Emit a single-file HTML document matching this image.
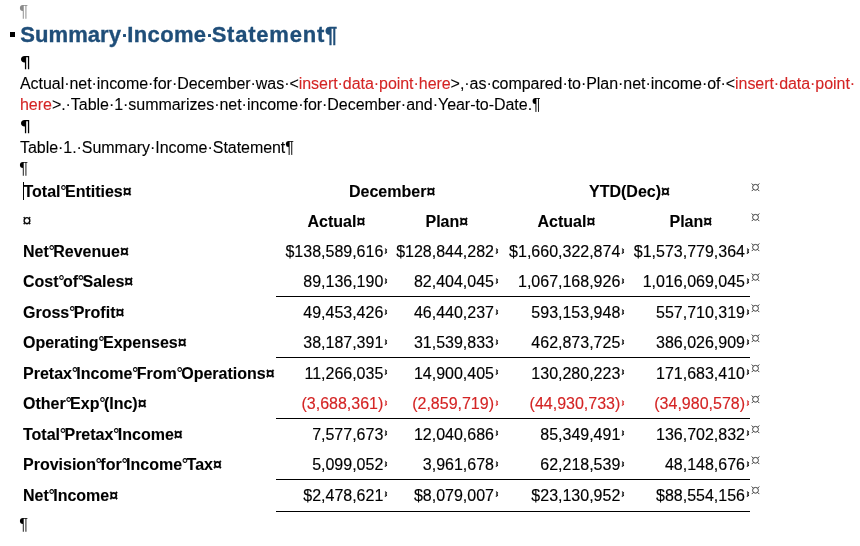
<!DOCTYPE html><html><head><meta charset="utf-8"><style>
html,body{margin:0;padding:0;background:#fff;}
body{width:860px;height:546px;position:relative;overflow:hidden;will-change:transform;font-family:"Liberation Sans",sans-serif;color:#000;}
.a{position:absolute;white-space:nowrap;line-height:1;}
.t{font-size:16px;font-weight:bold;-webkit-text-stroke:0.1px currentColor;}
.n{font-size:16px;-webkit-text-stroke:0.15px currentColor;}
.red{color:#d42424;}
.ns{display:inline-block;width:4.45px;overflow:visible;text-indent:-0.3px;font-weight:normal;font-size:16px;-webkit-text-stroke:0.15px #000;}
.mk{position:absolute;}
.body{font-size:16px;-webkit-text-stroke:0.1px currentColor;}
.h{font-size:22px;font-weight:bold;color:#1f4e79;-webkit-text-stroke:0.35px #1f4e79;}
</style></head><body>

<div class="a" style="left:19.36px;top:2.82px;font-size:16.5px;color:#8a8a8a">¶</div>
<div class="a" style="left:10px;top:32px;width:5px;height:5px;background:#000;"></div>
<div class="a h" style="left:20.37px;top:24.48px;letter-spacing:0.05px">Summary</div>
<div class="a h" style="left:127.33px;top:24.48px;letter-spacing:0.34px">Income</div>
<div class="a h" style="left:211.67px;top:24.48px;letter-spacing:0.78px">Statement¶</div>
<div class="a" style="left:123.1px;top:33.8px;width:3.2px;height:3.2px;background:#1f4e79;border-radius:0.5px"></div>
<div class="a" style="left:208.0px;top:33.8px;width:3.2px;height:3.2px;background:#1f4e79;border-radius:0.5px"></div>
<svg class="a" style="left:20.9px;top:55.8px" width="9" height="14" viewBox="0 0 9 14"><path d="M8.2 0H3.6C1.3 0 0 1.5 0 3.3C0 5.1 1.3 6.6 3.6 6.6H3.9V13.2H5.2V1.2H6.9V13.2H8.2Z" fill="#000"/></svg>
<div class="a body" style="left:20px;top:75.8px;letter-spacing:-0.05px">Actual·net·income·for·December·was·&lt;<span class="red">insert·data·point·here</span>&gt;,·as·compared·to·Plan·net·income·of·&lt;<span class="red">insert·data·point·</span></div>
<div class="a body" style="left:20px;top:97.0px;letter-spacing:-0.04px"><span class="red">here</span>&gt;.·Table·1·summarizes·net·income·for·December·and·Year-to-Date.¶</div>
<svg class="a" style="left:20.9px;top:120.0px" width="9" height="14" viewBox="0 0 9 14"><path d="M8.2 0H3.6C1.3 0 0 1.5 0 3.3C0 5.1 1.3 6.6 3.6 6.6H3.9V13.2H5.2V1.2H6.9V13.2H8.2Z" fill="#000"/></svg>
<div class="a body" style="left:20px;top:140.3px;letter-spacing:-0.045px">Table·1.·Summary·Income·Statement¶</div>
<div class="a" style="left:19.26px;top:160.32px;font-size:16.5px;color:#000">¶</div>
<div class="a" style="left:23px;top:182px;width:1px;height:18px;background:#000;"></div>
<div class="a t" style="left:23.5px;top:184.0px;">Total<span class="ns">°</span>Entities¤</div>
<div class="a t" style="left:349px;top:184.0px;">December¤</div>
<div class="a t" style="left:589px;top:184.0px;">YTD(Dec)¤</div>
<div class="a" style="left:750.5px;top:182.7px;"><svg style="display:block" width="9" height="9" viewBox="0 0 9 9"><circle cx="4.5" cy="4.3" r="2.9" fill="none" stroke="#333" stroke-width="0.95"/><path d="M0.7 0.5L2.2 2M8.3 0.5L6.8 2M0.7 8.1L2.2 6.6M8.3 8.1L6.8 6.6" stroke="#333" stroke-width="0.95"/></svg></div>
<div class="a" style="left:22.4px;top:212.76px;font-size:16px;-webkit-text-stroke:0.2px #000">¤</div>
<div class="a t" style="left:307.5px;top:213.9px;">Actual¤</div>
<div class="a t" style="left:425.5px;top:213.9px;">Plan¤</div>
<div class="a t" style="left:537.5px;top:213.9px;">Actual¤</div>
<div class="a t" style="left:669.5px;top:213.9px;">Plan¤</div>
<div class="a" style="left:750.5px;top:212.6px;"><svg style="display:block" width="9" height="9" viewBox="0 0 9 9"><circle cx="4.5" cy="4.3" r="2.9" fill="none" stroke="#333" stroke-width="0.95"/><path d="M0.7 0.5L2.2 2M8.3 0.5L6.8 2M0.7 8.1L2.2 6.6M8.3 8.1L6.8 6.6" stroke="#333" stroke-width="0.95"/></svg></div>
<div class="a t" style="left:23px;top:243.9px;">Net<span class="ns">°</span>Revenue¤</div>
<div class="a n" style="right:476.7px;top:243.9px;">$138,589,616</div>
<div class="a" style="left:384.3px;top:247.6px;"><svg class="mk" width="4" height="6" viewBox="0 0 4 6"><path d="M1 0.6L2.6 1.9L1.5 3L2.6 4.2L0.8 5.5" fill="none" stroke="#000" stroke-width="1.05" stroke-linejoin="round"/></svg></div>
<div class="a n" style="right:366.0px;top:243.9px;">$128,844,282</div>
<div class="a" style="left:495.0px;top:247.6px;"><svg class="mk" width="4" height="6" viewBox="0 0 4 6"><path d="M1 0.6L2.6 1.9L1.5 3L2.6 4.2L0.8 5.5" fill="none" stroke="#000" stroke-width="1.05" stroke-linejoin="round"/></svg></div>
<div class="a n" style="right:239.7px;top:243.9px;">$1,660,322,874</div>
<div class="a" style="left:621.3px;top:247.6px;"><svg class="mk" width="4" height="6" viewBox="0 0 4 6"><path d="M1 0.6L2.6 1.9L1.5 3L2.6 4.2L0.8 5.5" fill="none" stroke="#000" stroke-width="1.05" stroke-linejoin="round"/></svg></div>
<div class="a n" style="right:115.0px;top:243.9px;">$1,573,779,364</div>
<div class="a" style="left:746.0px;top:247.6px;"><svg class="mk" width="4" height="6" viewBox="0 0 4 6"><path d="M1 0.6L2.6 1.9L1.5 3L2.6 4.2L0.8 5.5" fill="none" stroke="#000" stroke-width="1.05" stroke-linejoin="round"/></svg></div>
<div class="a" style="left:750.5px;top:242.6px;"><svg style="display:block" width="9" height="9" viewBox="0 0 9 9"><circle cx="4.5" cy="4.3" r="2.9" fill="none" stroke="#333" stroke-width="0.95"/><path d="M0.7 0.5L2.2 2M8.3 0.5L6.8 2M0.7 8.1L2.2 6.6M8.3 8.1L6.8 6.6" stroke="#333" stroke-width="0.95"/></svg></div>
<div class="a t" style="left:23px;top:274.3px;">Cost<span class="ns">°</span>of<span class="ns">°</span>Sales¤</div>
<div class="a n" style="right:476.7px;top:274.3px;">89,136,190</div>
<div class="a" style="left:384.3px;top:278.1px;"><svg class="mk" width="4" height="6" viewBox="0 0 4 6"><path d="M1 0.6L2.6 1.9L1.5 3L2.6 4.2L0.8 5.5" fill="none" stroke="#000" stroke-width="1.05" stroke-linejoin="round"/></svg></div>
<div class="a n" style="right:366.0px;top:274.3px;">82,404,045</div>
<div class="a" style="left:495.0px;top:278.1px;"><svg class="mk" width="4" height="6" viewBox="0 0 4 6"><path d="M1 0.6L2.6 1.9L1.5 3L2.6 4.2L0.8 5.5" fill="none" stroke="#000" stroke-width="1.05" stroke-linejoin="round"/></svg></div>
<div class="a n" style="right:239.7px;top:274.3px;">1,067,168,926</div>
<div class="a" style="left:621.3px;top:278.1px;"><svg class="mk" width="4" height="6" viewBox="0 0 4 6"><path d="M1 0.6L2.6 1.9L1.5 3L2.6 4.2L0.8 5.5" fill="none" stroke="#000" stroke-width="1.05" stroke-linejoin="round"/></svg></div>
<div class="a n" style="right:115.0px;top:274.3px;">1,016,069,045</div>
<div class="a" style="left:746.0px;top:278.1px;"><svg class="mk" width="4" height="6" viewBox="0 0 4 6"><path d="M1 0.6L2.6 1.9L1.5 3L2.6 4.2L0.8 5.5" fill="none" stroke="#000" stroke-width="1.05" stroke-linejoin="round"/></svg></div>
<div class="a" style="left:750.5px;top:273.1px;"><svg style="display:block" width="9" height="9" viewBox="0 0 9 9"><circle cx="4.5" cy="4.3" r="2.9" fill="none" stroke="#333" stroke-width="0.95"/><path d="M0.7 0.5L2.2 2M8.3 0.5L6.8 2M0.7 8.1L2.2 6.6M8.3 8.1L6.8 6.6" stroke="#333" stroke-width="0.95"/></svg></div>
<div class="a t" style="left:23px;top:304.8px;">Gross<span class="ns">°</span>Profit¤</div>
<div class="a n" style="right:476.7px;top:304.8px;">49,453,426</div>
<div class="a" style="left:384.3px;top:308.5px;"><svg class="mk" width="4" height="6" viewBox="0 0 4 6"><path d="M1 0.6L2.6 1.9L1.5 3L2.6 4.2L0.8 5.5" fill="none" stroke="#000" stroke-width="1.05" stroke-linejoin="round"/></svg></div>
<div class="a n" style="right:366.0px;top:304.8px;">46,440,237</div>
<div class="a" style="left:495.0px;top:308.5px;"><svg class="mk" width="4" height="6" viewBox="0 0 4 6"><path d="M1 0.6L2.6 1.9L1.5 3L2.6 4.2L0.8 5.5" fill="none" stroke="#000" stroke-width="1.05" stroke-linejoin="round"/></svg></div>
<div class="a n" style="right:239.7px;top:304.8px;">593,153,948</div>
<div class="a" style="left:621.3px;top:308.5px;"><svg class="mk" width="4" height="6" viewBox="0 0 4 6"><path d="M1 0.6L2.6 1.9L1.5 3L2.6 4.2L0.8 5.5" fill="none" stroke="#000" stroke-width="1.05" stroke-linejoin="round"/></svg></div>
<div class="a n" style="right:115.0px;top:304.8px;">557,710,319</div>
<div class="a" style="left:746.0px;top:308.5px;"><svg class="mk" width="4" height="6" viewBox="0 0 4 6"><path d="M1 0.6L2.6 1.9L1.5 3L2.6 4.2L0.8 5.5" fill="none" stroke="#000" stroke-width="1.05" stroke-linejoin="round"/></svg></div>
<div class="a" style="left:750.5px;top:303.5px;"><svg style="display:block" width="9" height="9" viewBox="0 0 9 9"><circle cx="4.5" cy="4.3" r="2.9" fill="none" stroke="#333" stroke-width="0.95"/><path d="M0.7 0.5L2.2 2M8.3 0.5L6.8 2M0.7 8.1L2.2 6.6M8.3 8.1L6.8 6.6" stroke="#333" stroke-width="0.95"/></svg></div>
<div class="a t" style="left:23px;top:335.2px;">Operating<span class="ns">°</span>Expenses¤</div>
<div class="a n" style="right:476.7px;top:335.2px;">38,187,391</div>
<div class="a" style="left:384.3px;top:338.9px;"><svg class="mk" width="4" height="6" viewBox="0 0 4 6"><path d="M1 0.6L2.6 1.9L1.5 3L2.6 4.2L0.8 5.5" fill="none" stroke="#000" stroke-width="1.05" stroke-linejoin="round"/></svg></div>
<div class="a n" style="right:366.0px;top:335.2px;">31,539,833</div>
<div class="a" style="left:495.0px;top:338.9px;"><svg class="mk" width="4" height="6" viewBox="0 0 4 6"><path d="M1 0.6L2.6 1.9L1.5 3L2.6 4.2L0.8 5.5" fill="none" stroke="#000" stroke-width="1.05" stroke-linejoin="round"/></svg></div>
<div class="a n" style="right:239.7px;top:335.2px;">462,873,725</div>
<div class="a" style="left:621.3px;top:338.9px;"><svg class="mk" width="4" height="6" viewBox="0 0 4 6"><path d="M1 0.6L2.6 1.9L1.5 3L2.6 4.2L0.8 5.5" fill="none" stroke="#000" stroke-width="1.05" stroke-linejoin="round"/></svg></div>
<div class="a n" style="right:115.0px;top:335.2px;">386,026,909</div>
<div class="a" style="left:746.0px;top:338.9px;"><svg class="mk" width="4" height="6" viewBox="0 0 4 6"><path d="M1 0.6L2.6 1.9L1.5 3L2.6 4.2L0.8 5.5" fill="none" stroke="#000" stroke-width="1.05" stroke-linejoin="round"/></svg></div>
<div class="a" style="left:750.5px;top:333.9px;"><svg style="display:block" width="9" height="9" viewBox="0 0 9 9"><circle cx="4.5" cy="4.3" r="2.9" fill="none" stroke="#333" stroke-width="0.95"/><path d="M0.7 0.5L2.2 2M8.3 0.5L6.8 2M0.7 8.1L2.2 6.6M8.3 8.1L6.8 6.6" stroke="#333" stroke-width="0.95"/></svg></div>
<div class="a t" style="left:23px;top:365.7px;">Pretax<span class="ns">°</span>Income<span class="ns">°</span>From<span class="ns">°</span>Operations¤</div>
<div class="a n" style="right:476.7px;top:365.7px;">11,266,035</div>
<div class="a" style="left:384.3px;top:369.4px;"><svg class="mk" width="4" height="6" viewBox="0 0 4 6"><path d="M1 0.6L2.6 1.9L1.5 3L2.6 4.2L0.8 5.5" fill="none" stroke="#000" stroke-width="1.05" stroke-linejoin="round"/></svg></div>
<div class="a n" style="right:366.0px;top:365.7px;">14,900,405</div>
<div class="a" style="left:495.0px;top:369.4px;"><svg class="mk" width="4" height="6" viewBox="0 0 4 6"><path d="M1 0.6L2.6 1.9L1.5 3L2.6 4.2L0.8 5.5" fill="none" stroke="#000" stroke-width="1.05" stroke-linejoin="round"/></svg></div>
<div class="a n" style="right:239.7px;top:365.7px;">130,280,223</div>
<div class="a" style="left:621.3px;top:369.4px;"><svg class="mk" width="4" height="6" viewBox="0 0 4 6"><path d="M1 0.6L2.6 1.9L1.5 3L2.6 4.2L0.8 5.5" fill="none" stroke="#000" stroke-width="1.05" stroke-linejoin="round"/></svg></div>
<div class="a n" style="right:115.0px;top:365.7px;">171,683,410</div>
<div class="a" style="left:746.0px;top:369.4px;"><svg class="mk" width="4" height="6" viewBox="0 0 4 6"><path d="M1 0.6L2.6 1.9L1.5 3L2.6 4.2L0.8 5.5" fill="none" stroke="#000" stroke-width="1.05" stroke-linejoin="round"/></svg></div>
<div class="a" style="left:750.5px;top:364.4px;"><svg style="display:block" width="9" height="9" viewBox="0 0 9 9"><circle cx="4.5" cy="4.3" r="2.9" fill="none" stroke="#333" stroke-width="0.95"/><path d="M0.7 0.5L2.2 2M8.3 0.5L6.8 2M0.7 8.1L2.2 6.6M8.3 8.1L6.8 6.6" stroke="#333" stroke-width="0.95"/></svg></div>
<div class="a t" style="left:23px;top:396.1px;">Other<span class="ns">°</span>Exp<span class="ns">°</span>(Inc)¤</div>
<div class="a n red" style="right:476.7px;top:396.1px;">(3,688,361)</div>
<div class="a" style="left:384.3px;top:399.8px;"><svg class="mk" width="4" height="6" viewBox="0 0 4 6"><path d="M1 0.6L2.6 1.9L1.5 3L2.6 4.2L0.8 5.5" fill="none" stroke="#d42424" stroke-width="1.05" stroke-linejoin="round"/></svg></div>
<div class="a n red" style="right:366.0px;top:396.1px;">(2,859,719)</div>
<div class="a" style="left:495.0px;top:399.8px;"><svg class="mk" width="4" height="6" viewBox="0 0 4 6"><path d="M1 0.6L2.6 1.9L1.5 3L2.6 4.2L0.8 5.5" fill="none" stroke="#d42424" stroke-width="1.05" stroke-linejoin="round"/></svg></div>
<div class="a n red" style="right:239.7px;top:396.1px;">(44,930,733)</div>
<div class="a" style="left:621.3px;top:399.8px;"><svg class="mk" width="4" height="6" viewBox="0 0 4 6"><path d="M1 0.6L2.6 1.9L1.5 3L2.6 4.2L0.8 5.5" fill="none" stroke="#d42424" stroke-width="1.05" stroke-linejoin="round"/></svg></div>
<div class="a n red" style="right:115.0px;top:396.1px;">(34,980,578)</div>
<div class="a" style="left:746.0px;top:399.8px;"><svg class="mk" width="4" height="6" viewBox="0 0 4 6"><path d="M1 0.6L2.6 1.9L1.5 3L2.6 4.2L0.8 5.5" fill="none" stroke="#d42424" stroke-width="1.05" stroke-linejoin="round"/></svg></div>
<div class="a" style="left:750.5px;top:394.8px;"><svg style="display:block" width="9" height="9" viewBox="0 0 9 9"><circle cx="4.5" cy="4.3" r="2.9" fill="none" stroke="#333" stroke-width="0.95"/><path d="M0.7 0.5L2.2 2M8.3 0.5L6.8 2M0.7 8.1L2.2 6.6M8.3 8.1L6.8 6.6" stroke="#333" stroke-width="0.95"/></svg></div>
<div class="a t" style="left:23px;top:426.6px;">Total<span class="ns">°</span>Pretax<span class="ns">°</span>Income¤</div>
<div class="a n" style="right:476.7px;top:426.6px;">7,577,673</div>
<div class="a" style="left:384.3px;top:430.3px;"><svg class="mk" width="4" height="6" viewBox="0 0 4 6"><path d="M1 0.6L2.6 1.9L1.5 3L2.6 4.2L0.8 5.5" fill="none" stroke="#000" stroke-width="1.05" stroke-linejoin="round"/></svg></div>
<div class="a n" style="right:366.0px;top:426.6px;">12,040,686</div>
<div class="a" style="left:495.0px;top:430.3px;"><svg class="mk" width="4" height="6" viewBox="0 0 4 6"><path d="M1 0.6L2.6 1.9L1.5 3L2.6 4.2L0.8 5.5" fill="none" stroke="#000" stroke-width="1.05" stroke-linejoin="round"/></svg></div>
<div class="a n" style="right:239.7px;top:426.6px;">85,349,491</div>
<div class="a" style="left:621.3px;top:430.3px;"><svg class="mk" width="4" height="6" viewBox="0 0 4 6"><path d="M1 0.6L2.6 1.9L1.5 3L2.6 4.2L0.8 5.5" fill="none" stroke="#000" stroke-width="1.05" stroke-linejoin="round"/></svg></div>
<div class="a n" style="right:115.0px;top:426.6px;">136,702,832</div>
<div class="a" style="left:746.0px;top:430.3px;"><svg class="mk" width="4" height="6" viewBox="0 0 4 6"><path d="M1 0.6L2.6 1.9L1.5 3L2.6 4.2L0.8 5.5" fill="none" stroke="#000" stroke-width="1.05" stroke-linejoin="round"/></svg></div>
<div class="a" style="left:750.5px;top:425.3px;"><svg style="display:block" width="9" height="9" viewBox="0 0 9 9"><circle cx="4.5" cy="4.3" r="2.9" fill="none" stroke="#333" stroke-width="0.95"/><path d="M0.7 0.5L2.2 2M8.3 0.5L6.8 2M0.7 8.1L2.2 6.6M8.3 8.1L6.8 6.6" stroke="#333" stroke-width="0.95"/></svg></div>
<div class="a t" style="left:23px;top:457.0px;">Provision<span class="ns">°</span>for<span class="ns">°</span>Income<span class="ns">°</span>Tax¤</div>
<div class="a n" style="right:476.7px;top:457.0px;">5,099,052</div>
<div class="a" style="left:384.3px;top:460.8px;"><svg class="mk" width="4" height="6" viewBox="0 0 4 6"><path d="M1 0.6L2.6 1.9L1.5 3L2.6 4.2L0.8 5.5" fill="none" stroke="#000" stroke-width="1.05" stroke-linejoin="round"/></svg></div>
<div class="a n" style="right:366.0px;top:457.0px;">3,961,678</div>
<div class="a" style="left:495.0px;top:460.8px;"><svg class="mk" width="4" height="6" viewBox="0 0 4 6"><path d="M1 0.6L2.6 1.9L1.5 3L2.6 4.2L0.8 5.5" fill="none" stroke="#000" stroke-width="1.05" stroke-linejoin="round"/></svg></div>
<div class="a n" style="right:239.7px;top:457.0px;">62,218,539</div>
<div class="a" style="left:621.3px;top:460.8px;"><svg class="mk" width="4" height="6" viewBox="0 0 4 6"><path d="M1 0.6L2.6 1.9L1.5 3L2.6 4.2L0.8 5.5" fill="none" stroke="#000" stroke-width="1.05" stroke-linejoin="round"/></svg></div>
<div class="a n" style="right:115.0px;top:457.0px;">48,148,676</div>
<div class="a" style="left:746.0px;top:460.8px;"><svg class="mk" width="4" height="6" viewBox="0 0 4 6"><path d="M1 0.6L2.6 1.9L1.5 3L2.6 4.2L0.8 5.5" fill="none" stroke="#000" stroke-width="1.05" stroke-linejoin="round"/></svg></div>
<div class="a" style="left:750.5px;top:455.8px;"><svg style="display:block" width="9" height="9" viewBox="0 0 9 9"><circle cx="4.5" cy="4.3" r="2.9" fill="none" stroke="#333" stroke-width="0.95"/><path d="M0.7 0.5L2.2 2M8.3 0.5L6.8 2M0.7 8.1L2.2 6.6M8.3 8.1L6.8 6.6" stroke="#333" stroke-width="0.95"/></svg></div>
<div class="a t" style="left:23px;top:487.5px;">Net<span class="ns">°</span>Income¤</div>
<div class="a n" style="right:476.7px;top:487.5px;">$2,478,621</div>
<div class="a" style="left:384.3px;top:491.2px;"><svg class="mk" width="4" height="6" viewBox="0 0 4 6"><path d="M1 0.6L2.6 1.9L1.5 3L2.6 4.2L0.8 5.5" fill="none" stroke="#000" stroke-width="1.05" stroke-linejoin="round"/></svg></div>
<div class="a n" style="right:366.0px;top:487.5px;">$8,079,007</div>
<div class="a" style="left:495.0px;top:491.2px;"><svg class="mk" width="4" height="6" viewBox="0 0 4 6"><path d="M1 0.6L2.6 1.9L1.5 3L2.6 4.2L0.8 5.5" fill="none" stroke="#000" stroke-width="1.05" stroke-linejoin="round"/></svg></div>
<div class="a n" style="right:239.7px;top:487.5px;">$23,130,952</div>
<div class="a" style="left:621.3px;top:491.2px;"><svg class="mk" width="4" height="6" viewBox="0 0 4 6"><path d="M1 0.6L2.6 1.9L1.5 3L2.6 4.2L0.8 5.5" fill="none" stroke="#000" stroke-width="1.05" stroke-linejoin="round"/></svg></div>
<div class="a n" style="right:115.0px;top:487.5px;">$88,554,156</div>
<div class="a" style="left:746.0px;top:491.2px;"><svg class="mk" width="4" height="6" viewBox="0 0 4 6"><path d="M1 0.6L2.6 1.9L1.5 3L2.6 4.2L0.8 5.5" fill="none" stroke="#000" stroke-width="1.05" stroke-linejoin="round"/></svg></div>
<div class="a" style="left:750.5px;top:486.2px;"><svg style="display:block" width="9" height="9" viewBox="0 0 9 9"><circle cx="4.5" cy="4.3" r="2.9" fill="none" stroke="#333" stroke-width="0.95"/><path d="M0.7 0.5L2.2 2M8.3 0.5L6.8 2M0.7 8.1L2.2 6.6M8.3 8.1L6.8 6.6" stroke="#333" stroke-width="0.95"/></svg></div>
<div class="a" style="left:276px;top:296px;width:474px;height:1px;background:#000;"></div>
<div class="a" style="left:276px;top:357px;width:474px;height:1px;background:#000;"></div>
<div class="a" style="left:276px;top:418px;width:474px;height:1px;background:#000;"></div>
<div class="a" style="left:276px;top:479px;width:474px;height:1px;background:#000;"></div>
<div class="a" style="left:276px;top:511px;width:474px;height:1px;background:#000;"></div>
<div class="a" style="left:19.36px;top:515.92px;font-size:16.5px;color:#000">¶</div>
</body></html>
